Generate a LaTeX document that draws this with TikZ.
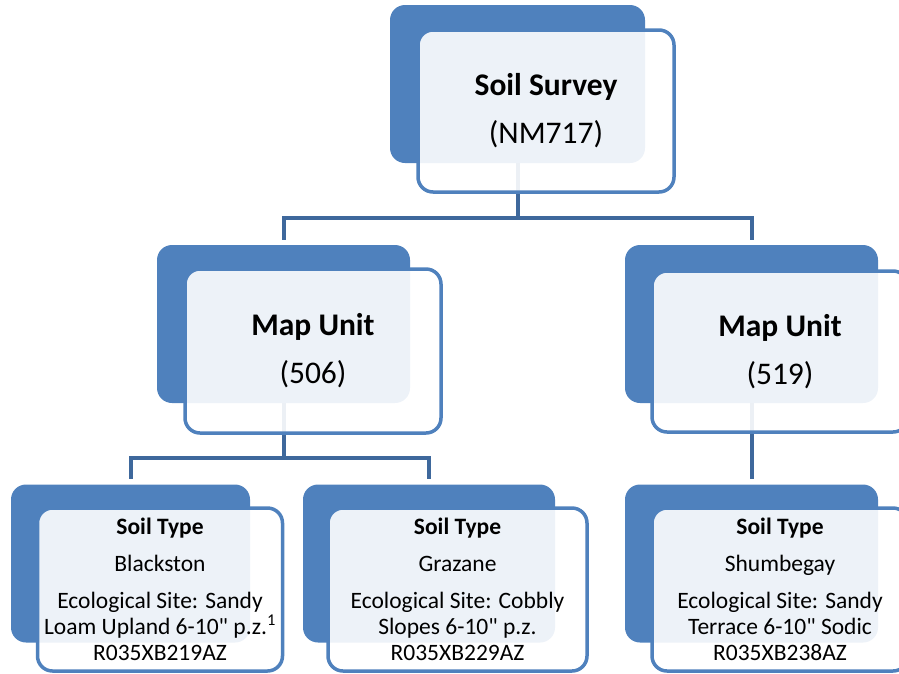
\documentclass[tikz,border=0pt]{standalone}
\usepackage{fontspec}
\setmainfont{Carlito}
\usetikzlibrary{positioning}
\pgfdeclarelayer{background}
\pgfsetlayers{background,main}
\definecolor{boxblue}{RGB}{79,129,189}
\definecolor{linkblue}{RGB}{62,104,156}
\tikzset{
  back/.style={fill=boxblue, rounded corners=15pt, minimum width=253pt, minimum height=158pt, inner sep=0pt},
  front/.style={draw=boxblue, line width=3.5pt, fill=white, fill opacity=0.9, text opacity=1, rounded corners=15pt, minimum width=256pt, minimum height=163pt, inner sep=0pt, align=center},
  link/.style={draw=linkblue, line width=4pt, shorten >=5pt},
  head/.style={font={\fontsize{31.5}{48}\selectfont}},
  leaf/.style={font={\fontsize{23.5}{26}\selectfont}}
}
\begin{document}
\begin{tikzpicture}[x=1pt,y=-1pt]
 \useasboundingbox (0,0) rectangle (899,673);
 % back boxes
 \node[back, minimum width=255pt] (survey) at (517.5,84) {};
 \node[back] (mu506) at (283.5,324) {};
 \node[back] (mu519) at (751.5,324) {};
 \node[back, minimum width=239pt] (st1) at (130.5,563.5) {};
 \node[back, minimum width=252pt] (st2) at (429,563.5) {};
 \node[back] (st3) at (751.5,563.5) {};
 % front boxes with the text
 \node[front, head, minimum height=162pt] (survey-f) at (546,111) {\textbf{Soil Survey}\\(NM717)};
 \node[front, head, minimum height=164pt] (mu506-f) at (313,351) {\textbf{Map Unit}\\(506)};
 \node[front, head, minimum height=161pt] (mu519-f) at (780,351.5) {\textbf{Map Unit}\\(519)};
 \node[front, leaf, minimum width=245pt] (st1-f) at (160,589.5) {\textbf{Soil Type}\\[11pt]Blackston\\[11pt]Ecological Site: Sandy\\Loam Upland 6-10\textquotedbl{} p.z.\textsuperscript{1}\\R035XB219AZ};
 \node[front, leaf, minimum width=259pt] (st2-f) at (457.5,589.5) {\textbf{Soil Type}\\[11pt]Grazane\\[11pt]Ecological Site: Cobbly\\Slopes 6-10\textquotedbl{} p.z.\\R035XB229AZ};
 \node[front, leaf] (st3-f) at (780,589.5) {\textbf{Soil Type}\\[11pt]Shumbegay\\[11pt]Ecological Site: Sandy\\Terrace 6-10\textquotedbl{} Sodic\\R035XB238AZ};
 % connectors
 \begin{pgfonlayer}{background}
 \draw[link] (survey.south) -- ++(0,55) -| (mu506.north);
 \draw[link] (survey.south) -- ++(0,55) -| (mu519.north);
 \draw[link] (mu506.south) -- ++(0,55) -| (st1.north);
 \draw[link] (mu506.south) -- ++(0,55) -| (st2.north);
 \draw[link] (mu519.south) -- (st3.north);
 \end{pgfonlayer}
\end{tikzpicture}
\end{document}
